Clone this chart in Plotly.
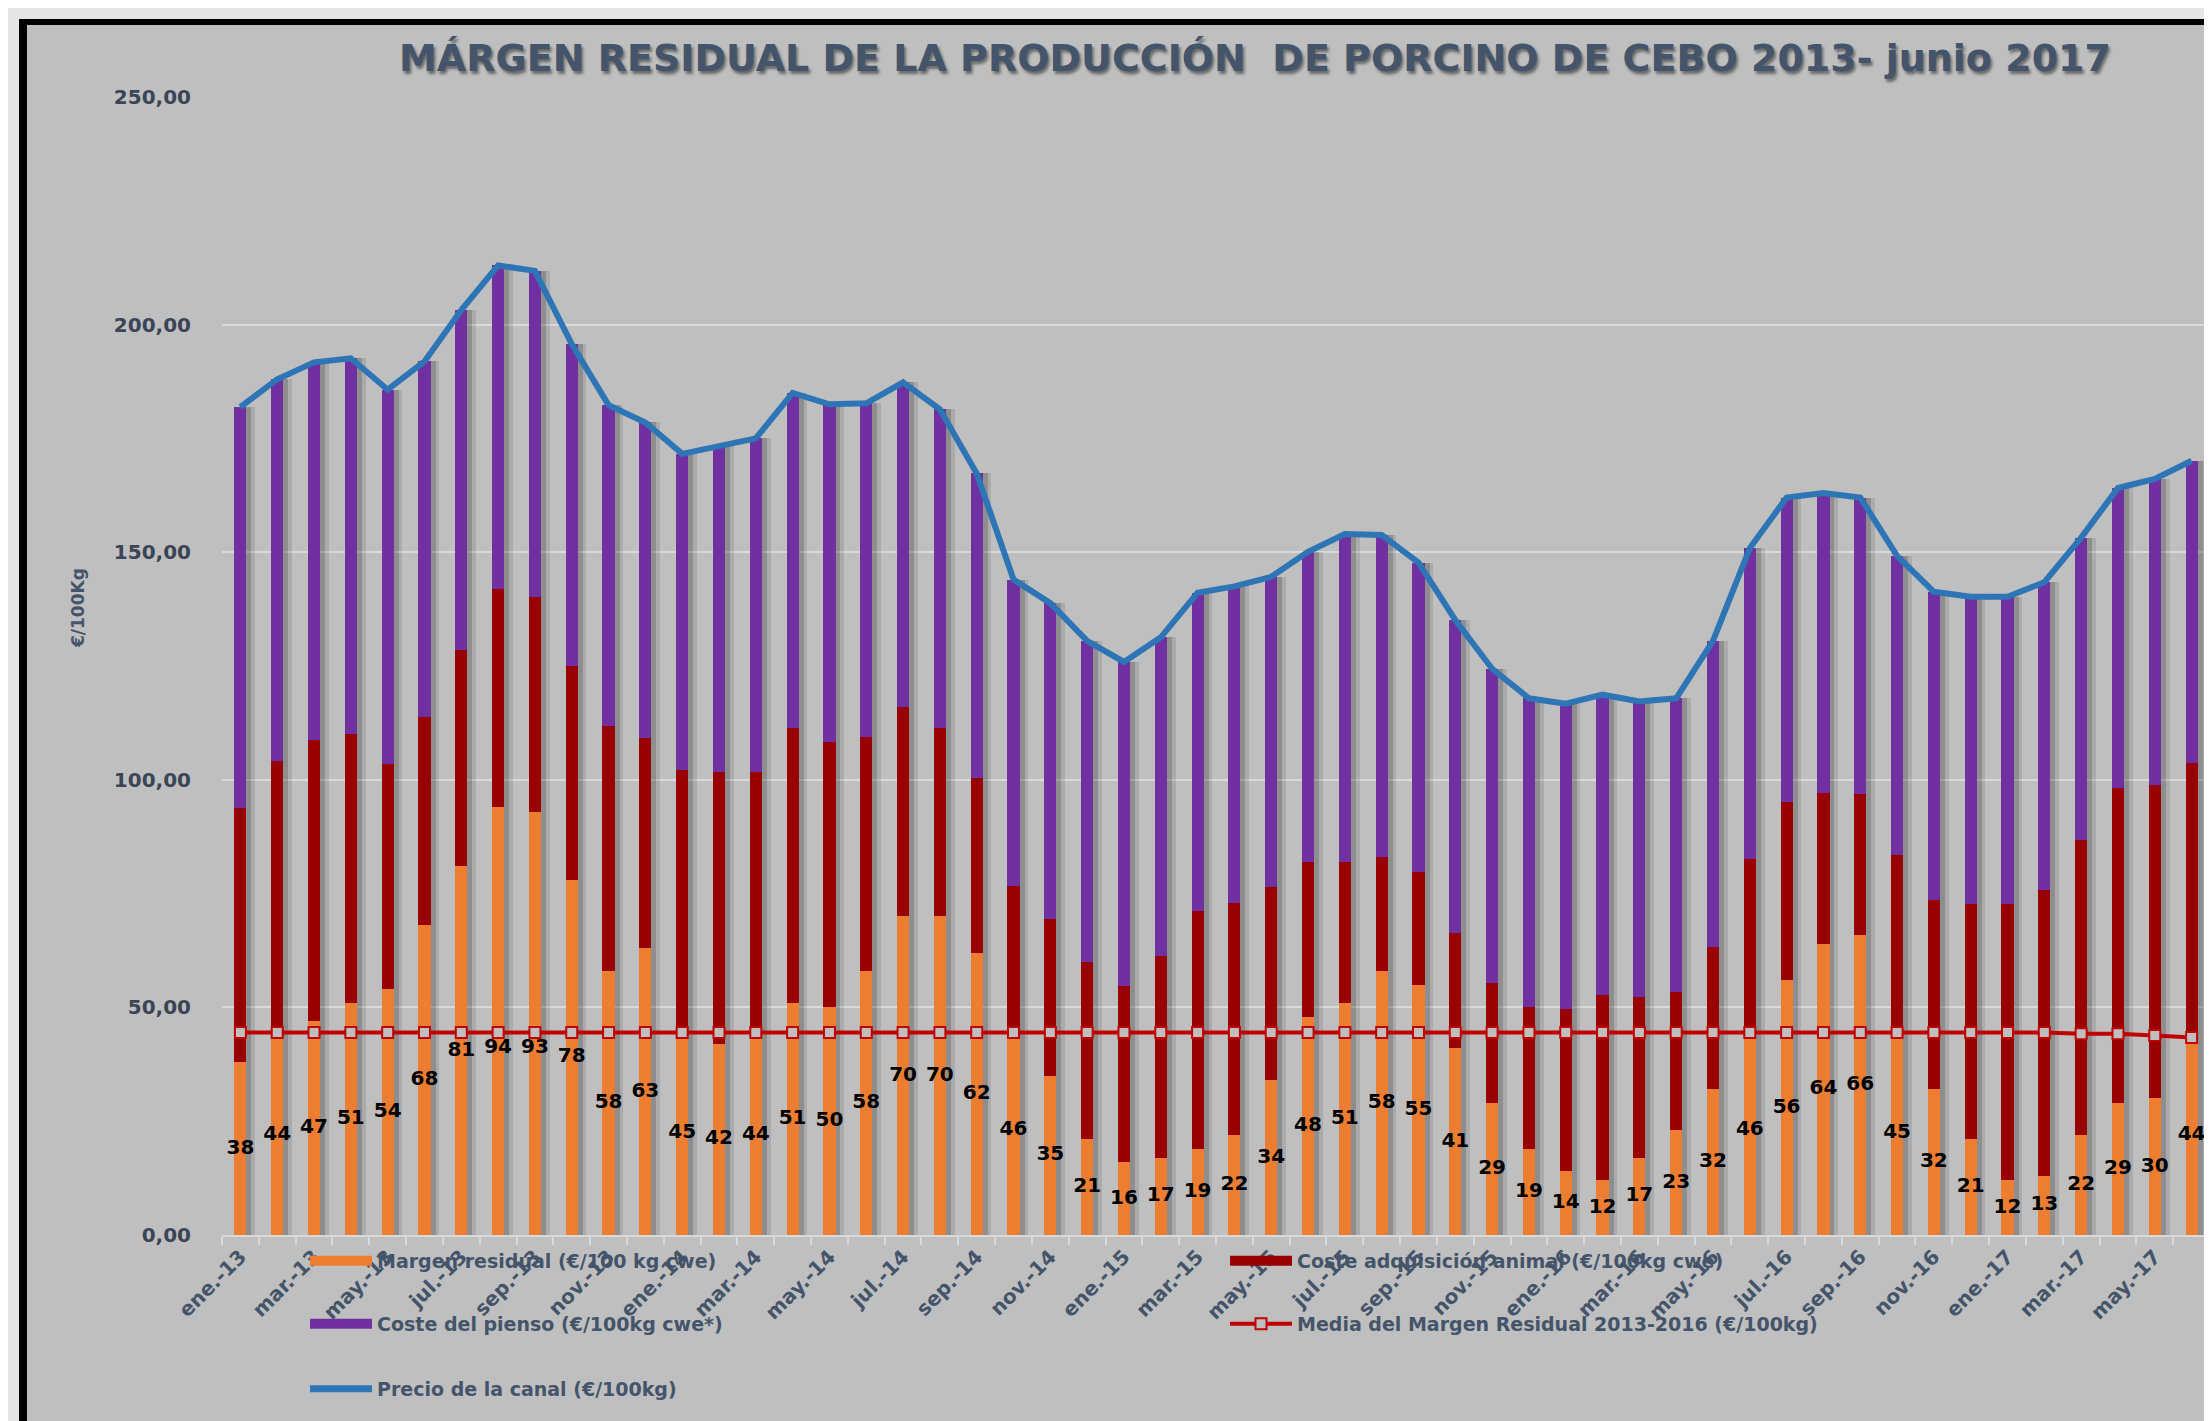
import plotly.graph_objects as go

# ---------------- DATA ----------------
meses = ["ene.-13","feb.-13","mar.-13","abr.-13","may.-13","jun.-13","jul.-13","ago.-13","sep.-13","oct.-13","nov.-13","dic.-13",
         "ene.-14","feb.-14","mar.-14","abr.-14","may.-14","jun.-14","jul.-14","ago.-14","sep.-14","oct.-14","nov.-14","dic.-14",
         "ene.-15","feb.-15","mar.-15","abr.-15","may.-15","jun.-15","jul.-15","ago.-15","sep.-15","oct.-15","nov.-15","dic.-15",
         "ene.-16","feb.-16","mar.-16","abr.-16","may.-16","jun.-16","jul.-16","ago.-16","sep.-16","oct.-16","nov.-16","dic.-16",
         "ene.-17","feb.-17","mar.-17","abr.-17","may.-17","jun.-17"]

margen = [38,44,47,51,54,68,81,94,93,78,58,63,
          45,42,44,51,50,58,70,70,62,46,35,21,
          16,17,19,22,34,48,51,58,55,41,29,19,
          14,12,17,23,32,46,56,64,66,45,32,21,
          12,13,22,29,30,44]

coste_animal = [55.8,60.1,61.7,59.1,49.4,45.7,47.5,47.9,47.2,47.0,53.8,46.2,
                57.2,59.8,57.8,60.4,58.3,51.4,46.0,41.4,38.3,30.7,34.5,38.9,
                38.8,44.2,52.2,51.0,42.5,33.9,30.9,25.0,24.8,25.3,26.4,31.0,
                35.7,40.8,35.3,30.4,31.2,36.5,39.1,33.2,30.8,38.4,41.5,51.7,
                60.7,62.9,64.7,69.3,68.9,59.7]

coste_pienso = [88.1,83.9,83.0,82.5,82.3,78.2,74.7,71.1,71.6,70.7,70.5,69.3,
                69.4,71.5,73.2,73.6,74.2,73.3,71.3,70.0,67.0,67.3,69.3,70.6,
                71.1,70.1,69.9,69.5,68.1,68.2,72.1,70.8,67.9,68.8,69.0,67.9,
                67.0,65.9,64.9,64.5,67.3,68.4,66.9,65.8,65.2,65.8,67.8,67.5,
                67.5,67.5,66.5,65.8,67.2,66.4]

precio = [181.9,188.0,191.7,192.6,185.7,191.9,203.2,213.0,211.8,195.7,182.3,178.5,
          171.6,173.3,175.0,185.0,182.5,182.7,187.3,181.4,167.3,144.0,138.8,130.5,
          125.9,131.3,141.1,142.5,144.6,150.1,154.0,153.8,147.7,135.1,124.4,117.9,
          116.7,118.7,117.2,117.9,130.5,150.9,162.0,163.0,162.0,149.2,141.3,140.2,
          140.2,143.4,153.2,164.1,166.1,170.1]

media = [44.5,44.5,44.5,44.5,44.5,44.5,44.5,44.5,44.5,44.5,44.5,44.5,
         44.5,44.5,44.5,44.5,44.5,44.5,44.5,44.5,44.5,44.5,44.5,44.5,
         44.5,44.5,44.5,44.5,44.5,44.5,44.5,44.5,44.5,44.5,44.5,44.5,
         44.5,44.5,44.5,44.5,44.5,44.5,44.5,44.5,44.5,44.5,44.5,44.5,
         44.5,44.5,44.2,44.2,43.8,43.4]

y_ticks = [0, 50, 100, 150, 200, 250]

titulo = "MÁRGEN RESIDUAL DE LA PRODUCCIÓN  DE PORCINO DE CEBO 2013- junio 2017"
nombres = ["Margen residual (€/100 kg cwe)",
           "Coste adquisición animal (€/100kg cwe)",
           "Coste del pienso (€/100kg cwe*)",
           "Media del Margen Residual 2013-2016 (€/100kg)",
           "Precio de la canal (€/100kg)"]

# ---------------- STYLE ----------------
W, H = 2212, 1421
L, R, T, B = 214, 10, 89, 194
C_OR, C_RED, C_PUR, C_BLUE, C_MED = "#ed7d31", "#990000", "#7030a0", "#2e75b6", "#c00000"
BG = "#bfbfbf"
TXT = "#44546a"
FONT = "DejaVu Sans"

def px_x(p):
    return (p - L) / (W - L - R)

def px_y(p):
    return (H - B - p) / (H - T - B)

x = list(range(len(meses)))
base_animal = [m for m in margen]
base_pienso = [m + a for m, a in zip(margen, coste_animal)]
label_y = [min(m / 2, 41) for m in margen]

BW = 0.33
fig = go.Figure()

# bar shadows
fig.add_trace(go.Bar(x=x, y=precio, base=0, width=0.52, offset=-0.12,
                     marker=dict(color="rgba(0,0,0,0.10)", line=dict(width=0)),
                     showlegend=False, hoverinfo="skip"))
fig.add_trace(go.Bar(x=x, y=precio, base=0, width=0.42, offset=-0.12,
                     marker=dict(color="rgba(0,0,0,0.17)", line=dict(width=0)),
                     showlegend=False, hoverinfo="skip"))

# stacked bars (drawn with explicit bases)
fig.add_trace(go.Bar(x=x, y=margen, base=0, width=BW, offset=-BW / 2, name=nombres[0],
                     marker=dict(color=C_OR, line=dict(width=0)), showlegend=False))
fig.add_trace(go.Bar(x=x, y=coste_animal, base=base_animal, width=BW, offset=-BW / 2, name=nombres[1],
                     marker=dict(color=C_RED, line=dict(width=0)), showlegend=False))
fig.add_trace(go.Bar(x=x, y=coste_pienso, base=base_pienso, width=BW, offset=-BW / 2, name=nombres[2],
                     marker=dict(color=C_PUR, line=dict(width=0)), showlegend=False))

# lines
fig.add_trace(go.Scatter(x=x, y=media, mode="lines+markers", name=nombres[3],
                         line=dict(color=C_MED, width=4),
                         marker=dict(symbol="square", size=11, color=BG, line=dict(color=C_MED, width=2)),
                         showlegend=False))
fig.add_trace(go.Scatter(x=x, y=precio, mode="lines", name=nombres[4],
                         line=dict(color=C_BLUE, width=6), showlegend=False))

# data labels
fig.add_trace(go.Scatter(x=x, y=label_y, mode="text", text=[str(m) for m in margen],
                         textposition="middle center",
                         textfont=dict(family=FONT, size=20, color="black", weight="bold"),
                         showlegend=False, hoverinfo="skip"))

# legend-only entries
leg_specs = [
    (nombres[0], dict(color=C_OR, width=11), None, "legend"),
    (nombres[1], dict(color=C_RED, width=11), None, "legend"),
    (nombres[2], dict(color=C_PUR, width=11), None, "legend2"),
    (nombres[3], dict(color=C_MED, width=4),
     dict(symbol="square", size=11, color=BG, line=dict(color=C_MED, width=2)), "legend2"),
    (nombres[4], dict(color=C_BLUE, width=7), None, "legend3"),
]
for nm, ln, mk, lg in leg_specs:
    fig.add_trace(go.Scatter(x=[None], y=[None], name=nm,
                             mode="lines+markers" if mk else "lines",
                             line=ln, marker=mk if mk else dict(), legend=lg, showlegend=True))

leg_common = dict(orientation="h", bgcolor="rgba(0,0,0,0)", borderwidth=0,
                  font=dict(family=FONT, size=19, color=TXT, weight="bold"),
                  itemwidth=62, entrywidth=843, entrywidthmode="pixels",
                  xanchor="left", yanchor="middle", x=px_x(297))

frame_shapes = [
    dict(type="rect", xref="paper", yref="paper", x0=px_x(0), x1=px_x(W), y0=px_y(0), y1=px_y(11),
         fillcolor="#e6e6e6", line=dict(width=0), layer="above"),
    dict(type="rect", xref="paper", yref="paper", x0=px_x(0), x1=px_x(11), y0=px_y(0), y1=px_y(H),
         fillcolor="#e6e6e6", line=dict(width=0), layer="above"),
    dict(type="rect", xref="paper", yref="paper", x0=px_x(11), x1=px_x(W), y0=px_y(11), y1=px_y(17),
         fillcolor="black", line=dict(width=0), layer="above"),
    dict(type="rect", xref="paper", yref="paper", x0=px_x(11), x1=px_x(19), y0=px_y(11), y1=px_y(H),
         fillcolor="black", line=dict(width=0), layer="above"),
]

fig.update_layout(
    width=W, height=H,
    margin=dict(l=L, r=R, t=T, b=B, pad=0),
    paper_bgcolor=BG, plot_bgcolor=BG,
    barmode="overlay", bargap=0,
    separators=",.",
    showlegend=True,
    title=dict(text=titulo, x=1247 / W, xanchor="center", y=1 - 50 / H, yanchor="middle",
               font=dict(family=FONT, size=38, color=TXT, weight="bold",
                         shadow="2px 3px 3px rgba(0,0,0,0.45)")),
    xaxis=dict(range=[-0.5, len(meses) - 0.5], tickmode="array", tickvals=x[::2], ticktext=meses[::2],
               tickangle=-45, showgrid=False, zeroline=False, showline=True, linecolor="#d9d9d9", linewidth=2,
               ticks="", tickfont=dict(family=FONT, size=20, color=TXT, weight="bold"),
               minor=dict(ticks="outside", tick0=0.5, dtick=1, ticklen=8, tickcolor="#d9d9d9", tickwidth=2,
                          showgrid=False)),
    yaxis=dict(range=[0, 250], tickmode="array", tickvals=y_ticks, tickformat=".2f",
               showgrid=True, gridcolor="#d9d9d9", gridwidth=1.5, zeroline=False, showline=False,
               ticks="", ticklabelstandoff=30,
               tickfont=dict(family=FONT, size=20, color="#3b4556", weight="bold")),
    legend=dict(**leg_common, y=px_y(1253)),
    legend2=dict(**leg_common, y=px_y(1316)),
    legend3=dict(**leg_common, y=px_y(1381)),
    annotations=[dict(text="€/100Kg", xref="paper", yref="paper", x=px_x(70), y=px_y(600),
                      textangle=-90, showarrow=False, xanchor="center", yanchor="middle",
                      font=dict(family=FONT, size=17, color=TXT, weight="bold"))],
    shapes=frame_shapes,
)

fig.write_html("out.html")
